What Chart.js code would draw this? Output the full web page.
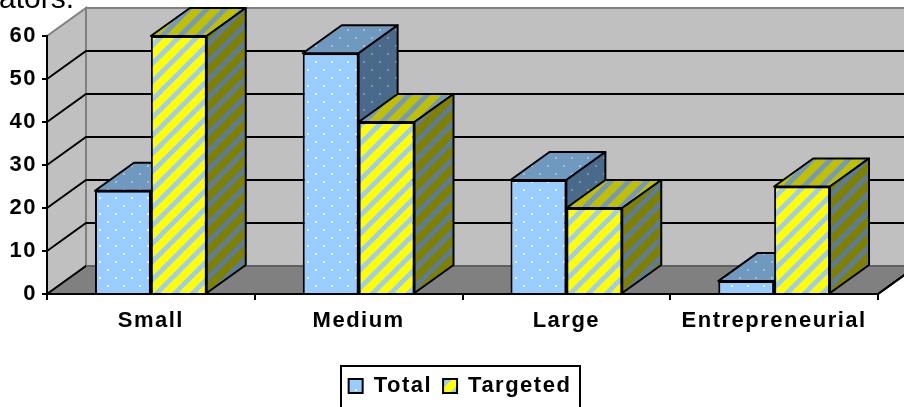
<!DOCTYPE html>
<html>
<head>
<meta charset="utf-8">
<style>
  html, body { margin: 0; padding: 0; background: #fff; overflow: hidden; }
  #grafico { display: block; position: absolute; left: 0; top: 0; }
  #resto_texto {
    position: absolute; left: -1px; top: -18px; z-index: 2;
    font: 30px/32px "Liberation Sans", Arial, sans-serif; color: #000;
  }
</style>
</head>
<body>
<canvas id="grafico" width="904" height="407"></canvas>
<div id="resto_texto">ators.</div>
<script src="https://cdn.jsdelivr.net/npm/chart.js@4"></script>
<script>
const categorias = ["Small", "Medium", "Large", "Entrepreneurial"];
const total = [24, 56, 26.5, 3];
const targeted = [60, 40, 20, 25];

// profundidade do efeito 3D
const dx = 39;
const dy = -28;
const espacamento = "1.5px";

function padraoPontos(fundo, ponto) {
    const c = document.createElement("canvas");
    c.width = 16;
    c.height = 16;
    const g = c.getContext("2d");
    g.fillStyle = fundo;
    g.fillRect(0, 0, 16, 16);
    g.fillStyle = ponto;
    g.beginPath();
    g.arc(4, 6, 1.1, 0, Math.PI * 2);
    g.arc(12, 14, 1.1, 0, Math.PI * 2);
    g.fill();
    return g.createPattern(c, "repeat");
}

function padraoListras(cor1, cor2) {
    const n = 18;
    const c = document.createElement("canvas");
    c.width = n;
    c.height = n;
    const g = c.getContext("2d");
    g.fillStyle = cor1;
    g.fillRect(0, 0, n, n);
    g.strokeStyle = cor2;
    g.lineWidth = 4.8;
    for (let i = -n; i <= 2 * n; i += n) {
        g.beginPath();
        g.moveTo(i - 4, n + 4);
        g.lineTo(i + n + 4, -4);
        g.stroke();
    }
    return g.createPattern(c, "repeat");
}

const cores_total = {
    frente: padraoPontos("#99ccff", "#ffffff"),
    topo: padraoPontos("#7099c0", "#b4c6d6"),
    lado: padraoPontos("#4a6a8c", "#8a9cae"),
};
const cores_targeted = {
    frente: padraoListras("#ffff00", "#a0ccee"),
    topo: padraoListras("#c0c000", "#7399bd"),
    lado: padraoListras("#808000", "#5c7c9e"),
};

function poligono(ctx, pontos, fill, stroke, largura) {
    ctx.beginPath();
    pontos.forEach((p, i) => (i ? ctx.lineTo(p[0], p[1]) : ctx.moveTo(p[0], p[1])));
    ctx.closePath();
    ctx.fillStyle = fill;
    ctx.fill();
    if (stroke) {
        ctx.strokeStyle = stroke;
        ctx.lineWidth = largura;
        ctx.stroke();
    }
}

const plugin3d = {
    id: "plugin3d",
    beforeInit(chart) {
        chart.ctx.letterSpacing = espacamento;
    },
    beforeUpdate(chart) {
        chart.ctx.letterSpacing = espacamento;
    },
    // a legenda fica deslocada em relacao ao centro do canvas
    afterLayout(chart) {
        chart.legend.left += 21;
        chart.legend.right += 21;
    },
    // paredes, chao e linhas de grade
    beforeDraw(chart) {
        const ctx = chart.ctx;
        const a = chart.chartArea;
        const y = chart.scales.y;
        ctx.save();
        poligono(ctx, [[a.left, a.top], [a.left + dx, a.top + dy], [a.left + dx, a.bottom + dy], [a.left, a.bottom]], "#c0c0c0", "#808080", 2);
        poligono(ctx, [[a.left + dx, a.top + dy], [a.right + dx, a.top + dy], [a.right + dx, a.bottom + dy], [a.left + dx, a.bottom + dy]], "#c0c0c0", "#808080", 2);
        poligono(ctx, [[a.left, a.bottom], [a.left + dx, a.bottom + dy], [a.right + dx, a.bottom + dy], [a.right, a.bottom]], "#808080", "#000000", 0);
        ctx.strokeStyle = "#606060";
        ctx.lineWidth = 2;
        ctx.beginPath();
        ctx.moveTo(a.left + dx, a.bottom + dy);
        ctx.lineTo(a.right + dx, a.bottom + dy);
        ctx.stroke();
        // borda direita do chao
        ctx.strokeStyle = "#000000";
        ctx.beginPath();
        ctx.moveTo(a.right, a.bottom);
        ctx.lineTo(a.right + dx, a.bottom + dy);
        ctx.stroke();
        ctx.strokeStyle = "#000000";
        y.ticks.forEach((t) => {
            if (t.value === 0 || t.value === y.max) return;
            const py = y.getPixelForValue(t.value);
            ctx.beginPath();
            ctx.moveTo(a.left, py);
            ctx.lineTo(a.left + dx, py + dy);
            ctx.lineTo(a.right + dx, py + dy);
            ctx.stroke();
        });
        ctx.restore();
    },
    // topo e lateral de cada barra, a frente vem do proprio Chart.js
    beforeDatasetsDraw(chart) {
        const ctx = chart.ctx;
        ctx.save();
        ctx.lineJoin = "round";
        [0, 1].forEach((d) => {
            const cores = d === 0 ? cores_total : cores_targeted;
            chart.getDatasetMeta(d).data.forEach((barra) => {
                const p = barra.getProps(["x", "y", "base", "width"], true);
                const esq = p.x - p.width / 2;
                const dir = p.x + p.width / 2;
                poligono(ctx, [[esq, p.y], [esq + dx, p.y + dy], [dir + dx, p.y + dy], [dir, p.y]], cores.topo, "#000000", 2);
                poligono(ctx, [[dir, p.y], [dir + dx, p.y + dy], [dir + dx, p.base + dy], [dir, p.base]], cores.lado, "#000000", 2);
            });
        });
        ctx.restore();
    },
    // moldura da legenda
    afterDraw(chart) {
        const ctx = chart.ctx;
        const l = chart.legend;
        const meio = (l.left + l.right) / 2;
        ctx.save();
        ctx.strokeStyle = "#000000";
        ctx.lineWidth = 2;
        ctx.strokeRect(meio - 119, l.top + 2, 239, 60);
        ctx.restore();
    },
};

const fonte = { family: '"Liberation Sans", Arial, sans-serif', size: 22, weight: "bold" };

new Chart("grafico", {
    type: "bar",
    data: {
        labels: categorias,
        datasets: [
            {
                label: "Total",
                data: total,
                backgroundColor: cores_total.frente,
                borderColor: "#000000",
                borderWidth: 2,
            },
            {
                label: "Targeted",
                data: targeted,
                backgroundColor: cores_targeted.frente,
                borderColor: "#000000",
                borderWidth: 2,
            },
        ],
    },
    plugins: [plugin3d],
    options: {
        responsive: false,
        animation: false,
        categoryPercentage: 0.538,
        barPercentage: 1,
        layout: { padding: { left: 0, right: 26, top: 36, bottom: 0 } },
        plugins: {
            title: { display: false },
            tooltip: { enabled: false },
            legend: {
                position: "bottom",
                labels: {
                    color: "#000000",
                    font: fonte,
                    boxWidth: 14,
                    boxHeight: 14,
                    padding: 11,
                },
            },
        },
        scales: {
            x: {
                afterFit: (escala) => {
                    escala.height = 70;
                },
                grid: {
                    drawOnChartArea: false,
                    color: "#000000",
                    lineWidth: 2,
                    tickLength: 6,
                },
                border: { color: "#000000", width: 2 },
                ticks: {
                    color: "#000000",
                    font: fonte,
                    padding: 8,
                    maxRotation: 0,
                    autoSkip: false,
                },
            },
            y: {
                min: 0,
                max: 60,
                afterFit: (escala) => {
                    escala.width = 47;
                },
                grid: {
                    drawOnChartArea: false,
                    color: "#000000",
                    lineWidth: 2,
                    tickLength: 5,
                },
                border: { color: "#000000", width: 2 },
                ticks: {
                    stepSize: 10,
                    color: "#000000",
                    font: fonte,
                    padding: 5,
                },
            },
        },
    },
});
</script>
</body>
</html>
